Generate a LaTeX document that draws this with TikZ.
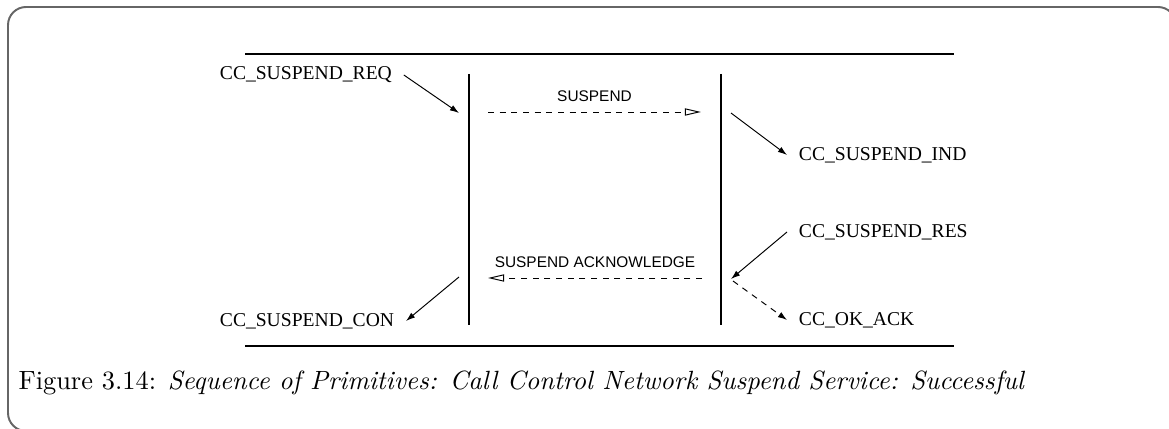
\documentclass[tikz,border=0pt]{standalone}
\usepackage{fontspec}
\newfontfamily\primfont{Liberation Serif}
\newfontfamily\msgfont{Liberation Sans}
\usetikzlibrary{arrows.meta,positioning,calc}
\colorlet{framegray}{gray!80!black}

\begin{document}
\begin{tikzpicture}
  [x=0.36pt,y=-0.36pt,
  primitive/.style={
    font=\primfont\fontsize{7.05}{8}\selectfont,
    inner sep=0pt,
    outer xsep=4.3pt
    },
  message/.style={
    font=\msgfont\fontsize{5.55}{7}\selectfont,
    inner sep=0pt
    },
  primarrow/.style={-{Latex[length=3.3pt,width=2.2pt]}, line width=0.35pt},
  msgarrow/.style={dash pattern=on 2.2pt off 2pt, -{Triangle[open,length=5.8pt,width=2.6pt]}, line width=0.35pt},
  lifeline/.style={line width=0.4pt}
  ]
  \useasboundingbox (0,0) rectangle (1169,429);
  % only the top and left sides of the frame lie on the page
  \coordinate (framebl) at (8,431);
  \coordinate (frametl) at (8,7);
  \coordinate (frametr) at (1176,7);
  \draw[framegray, line width=0.7pt, rounded corners=6.5pt]
    ([xshift=8pt]framebl) -- (framebl) -- (frametl) -- (frametr) -- ([yshift=-6pt]frametr);

  % LIFELINES
  \coordinate (topleft) at (245,54);
  \coordinate (topright) at (954,54);
  \coordinate (botleft) at (245,346);
  \coordinate (botright) at (954,346);
  \coordinate (userA) at (469,74);
  \coordinate (userAend) at (469,325);
  \coordinate (userB) at (721,74);
  \coordinate (userBend) at (721,325);

  \draw[lifeline] (topleft) -- (topright);
  \draw[lifeline] (botleft) -- (botright);
  \draw[lifeline] (userA) -- (userAend);
  \draw[lifeline] (userB) -- (userBend);

  % PRIMITIVES (outer sep gives the gap to the arrows)
  \node [primitive, anchor=west] (req) at (208,75) {CC\_SUSPEND\_REQ};
  \node [primitive, anchor=west] (ind) at (787,155) {CC\_SUSPEND\_IND};
  \node [primitive, anchor=west] (res) at (787,232) {CC\_SUSPEND\_RES};
  \node [primitive, anchor=west] (okack) at (787,320) {CC\_OK\_ACK};
  \node [primitive, anchor=west] (con) at (208,321) {CC\_SUSPEND\_CON};

  \coordinate (reqend) at (459,113);
  \coordinate (indstart) at (731,113);
  \coordinate (resend) at (731,279);
  \coordinate (okstart) at (733,281);
  \coordinate (constart) at (459,277);

  \draw[primarrow] (req.east) -- (reqend);
  \draw[primarrow] (indstart) -- (ind.west);
  \draw[primarrow] (res.west) -- (resend);
  \draw[primarrow, dash pattern=on 2.2pt off 2pt] (okstart) -- (okack.west);
  \draw[primarrow] (constart) -- (con.east);

  % MESSAGES
  \coordinate (suspstart) at (488,112);
  \coordinate (suspend) at (701,112);
  \coordinate (ackstart) at (702,278);
  \coordinate (ackend) at (488,278);

  \node [message, above=3.5pt of $(suspstart)!0.5!(suspend)$] (susplabel) {SUSPEND};
  \node [message, above=3.5pt of $(ackstart)!0.5!(ackend)$] (acklabel) {SUSPEND ACKNOWLEDGE};

  \draw[msgarrow] (suspstart) -- (suspend);
  \draw[msgarrow] (ackstart) -- (ackend);

  % CAPTION
  \node [anchor=west, inner sep=0pt, font=\fontsize{9.5}{11}\selectfont] (caption) at (18,383)
    {Figure 3.14: \textit{Sequence of Primitives: Call Control Network Suspend Service: Successful}};
\end{tikzpicture}
\end{document}
